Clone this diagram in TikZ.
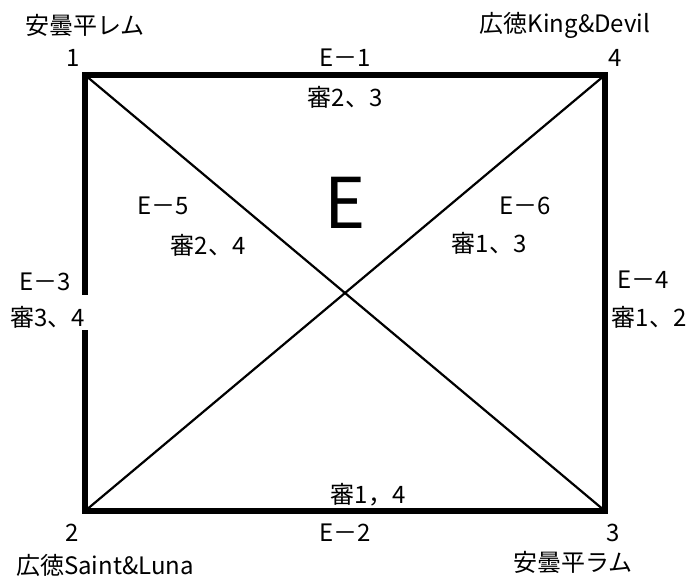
\documentclass[tikz,border=0pt]{standalone}
\usepackage{fontspec}
\setmainfont{Noto Sans CJK JP}
\begin{document}
\begin{tikzpicture}[x=1pt,y=-1pt,
  lbl/.style={inner sep=0pt, font=\fontsize{24}{24}\selectfont},
  big/.style={inner sep=0pt, font=\fontsize{70}{70}\selectfont},
  side/.style={line width=5.5pt, line join=miter},
  diag/.style={line width=2.2pt}]
\useasboundingbox (0,0) rectangle (691,577);
\coordinate (c1) at (85,75);
\coordinate (c4) at (605,75);
\coordinate (c3) at (605,511);
\coordinate (c2) at (85,511);
\coordinate (g1) at (85,295);
\coordinate (g2) at (85,330);
\draw[side] (g1) -- (c1) -- (c4) -- (c3) -- (c2) -- (g2);
\draw[diag] (c1) -- (c3);
\draw[diag] (c4) -- (c2);
\node[lbl] (t1) at (85,25) {安曇平レム};
\node[lbl] (n1) at (73,58) {1};
\node[lbl] (t4) at (565,25) {広徳King\&Devil};
\node[lbl] (n4) at (615,58) {4};
\node[lbl] (e1) at (345,58) {E－1};
\node[lbl] (s1) at (345,97) {審2、3};
\node[big] (bigE) at (345,203) {E};
\node[lbl] (e5) at (163,206) {E－5};
\node[lbl] (s5) at (208,245) {審2、4};
\node[lbl] (e6) at (525,206) {E－6};
\node[lbl] (s6) at (489,243) {審1、3};
\node[lbl] (e3) at (45,282) {E－3};
\node[lbl] (s3) at (48,317) {審3、4};
\node[lbl] (e4) at (643,280) {E－4};
\node[lbl] (s4) at (649,317) {審1、2};
\node[lbl] (s2) at (368,495) {審1，4};
\node[lbl] (e2) at (345,533) {E－2};
\node[lbl] (n3) at (613,533) {3};
\node[lbl] (t3) at (573,562) {安曇平ラム};
\node[lbl] (n2) at (72,533) {2};
\node[lbl] (t2) at (105,565) {広徳Saint\&Luna};
\end{tikzpicture}
\end{document}
